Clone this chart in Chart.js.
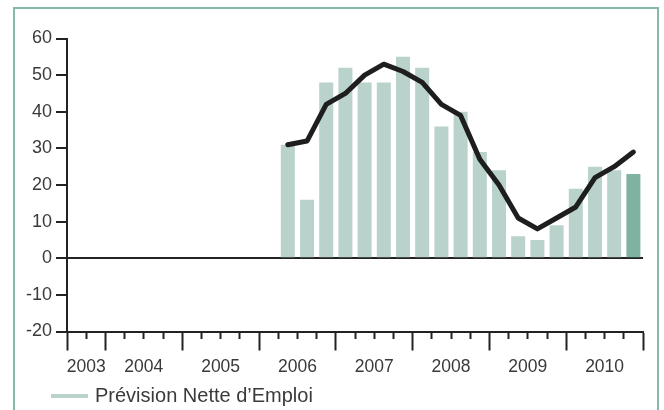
<!DOCTYPE html>
<html lang="fr">
<head>
<meta charset="utf-8">
<title>Prévision Nette d’Emploi</title>
<script src="https://cdn.jsdelivr.net/npm/chart.js@4/dist/chart.umd.min.js"></script>
<style>
  html, body { margin: 0; padding: 0; background: #fff; }
  #wrap { position: relative; width: 664px; height: 410px; overflow: hidden; }
  #frame { position: absolute; left: 13px; top: 7px; width: 646px; height: 430px;
           border: 2px solid #86b9a7; box-sizing: border-box; }
  #chart { position: absolute; left: 0; top: 0; }
  #legend { position: absolute; left: 51px; top: 384px; height: 23px; line-height: 23px;
            display: flex; align-items: center;
            font: 20px "Liberation Sans", Arial, sans-serif; color: #3a3a3a; }
  #legend .key { width: 37px; height: 4px; margin-right: 7px; }
</style>
</head>
<body>
<div id="wrap">
  <div id="frame"></div>
  <canvas id="chart" width="664" height="410"></canvas>
  <div id="legend"></div>
</div>
<script>
// Years on the time axis and how many quarters each one covers (2003 starts in Q3)
const years = ['2003', '2004', '2005', '2006', '2007', '2008', '2009', '2010'];
const quartersInYear = [2, 4, 4, 4, 4, 4, 4, 4];

// Survey quarters
const periods = [
  '2006-T2', '2006-T3', '2006-T4',
  '2007-T1', '2007-T2', '2007-T3', '2007-T4',
  '2008-T1', '2008-T2', '2008-T3', '2008-T4',
  '2009-T1', '2009-T2', '2009-T3', '2009-T4',
  '2010-T1', '2010-T2', '2010-T3', '2010-T4'
];

// Net employment outlook (bars) and its trend line
const previsionNette = [31, 16, 48, 52, 48, 48, 55, 52, 36, 40, 29, 24, 6, 5, 9, 19, 25, 24, 23];
const tendance = [31, 32, 42, 45, 50, 53, 51, 48, 42, 39, 27, 20, 11, 8, 11, 14, 22, 25, 29];

// Value axis ticks
const yTicks = [-20, -10, 0, 10, 20, 30, 40, 50, 60];

const legendLabel = 'Prévision Nette d’Emploi';

// ---- quarter positions on the linear time axis ----
const yearStart = [];
let acc = 0;
quartersInYear.forEach(n => { yearStart.push(acc); acc += n; });
const totalQuarters = acc;
const quarterBounds = Array.from({ length: totalQuarters + 1 }, (_, i) => i);
const yearBounds = new Set([...yearStart, totalQuarters]);
const yearLabelAt = new Map(years.map((y, i) => [yearStart[i] + quartersInYear[i] / 2, y]));

function periodCentre(p) {
  const [y, q] = p.split('-T').map(Number);
  const yi = years.indexOf(String(y));
  const firstQ = 5 - quartersInYear[yi];
  return yearStart[yi] + (q - firstQ) + 0.5;
}
const xs = periods.map(periodCentre);

const barLight = '#b9d2cb';
const barLatest = '#7db3a0';
const barColours = previsionNette.map((_, i) => i === previsionNette.length - 1 ? barLatest : barLight);

const ink = '#222';
const textColour = '#3a3a3a';
const family = '"Liberation Sans", Arial, sans-serif';

const chart = new Chart(document.getElementById('chart'), {
  type: 'bar',
  data: {
    datasets: [
      {
        type: 'line',
        label: 'Tendance',
        data: tendance.map((v, i) => ({ x: xs[i], y: v })),
        borderColor: '#1e1e1e',
        borderWidth: 5,
        borderCapStyle: 'round',
        borderJoinStyle: 'round',
        pointRadius: 0,
        tension: 0,
        order: 0
      },
      {
        type: 'bar',
        label: legendLabel,
        data: previsionNette.map((v, i) => ({ x: xs[i], y: v })),
        backgroundColor: barColours,
        borderWidth: 0,
        barPercentage: 0.73,
        categoryPercentage: 1,
        order: 1
      }
    ]
  },
  options: {
    responsive: false,
    animation: false,
    layout: { padding: { left: 22, top: 38.5, right: 21, bottom: 26.5 } },
    plugins: { legend: { display: false }, tooltip: { enabled: false } },
    scales: {
      x: {
        type: 'linear',
        min: 0,
        max: totalQuarters,
        offset: false,
        afterBuildTicks: s => { s.ticks = quarterBounds.map(v => ({ value: v })); },
        grid: {
          offset: false,
          drawOnChartArea: false,
          drawTicks: true,
          tickLength: 19,
          tickWidth: 2,
          tickColor: ink,
          tickBorderDash: c => (c.tick && yearBounds.has(c.tick.value)) ? [] : [6, 40]
        },
        border: { display: true, color: ink, width: 2 },
        ticks: {
          autoSkip: false,
          maxRotation: 0,
          padding: 6,
          color: textColour,
          font: { family, size: 17.5 },
          callback: v => yearLabelAt.get(v) || ''
        }
      },
      y: {
        min: yTicks[0],
        max: yTicks[yTicks.length - 1],
        z: 1,
        afterBuildTicks: s => { s.ticks = yTicks.map(v => ({ value: v })); },
        grid: {
          drawOnChartArea: true,
          color: c => (c.tick && c.tick.value === 0) ? ink : 'rgba(0,0,0,0)',
          lineWidth: 2,
          drawTicks: true,
          tickLength: 11,
          tickWidth: 2,
          tickColor: ink
        },
        border: { display: true, color: ink, width: 2 },
        ticks: {
          padding: 4,
          color: textColour,
          font: { family, size: 18 }
        }
      }
    }
  }
});

// Legend for the bar series
const legend = document.getElementById('legend');
const key = document.createElement('span');
key.className = 'key';
key.style.background = barLight;
const txt = document.createElement('span');
txt.textContent = chart.data.datasets[1].label;
legend.appendChild(key);
legend.appendChild(txt);
</script>
</body>
</html>
